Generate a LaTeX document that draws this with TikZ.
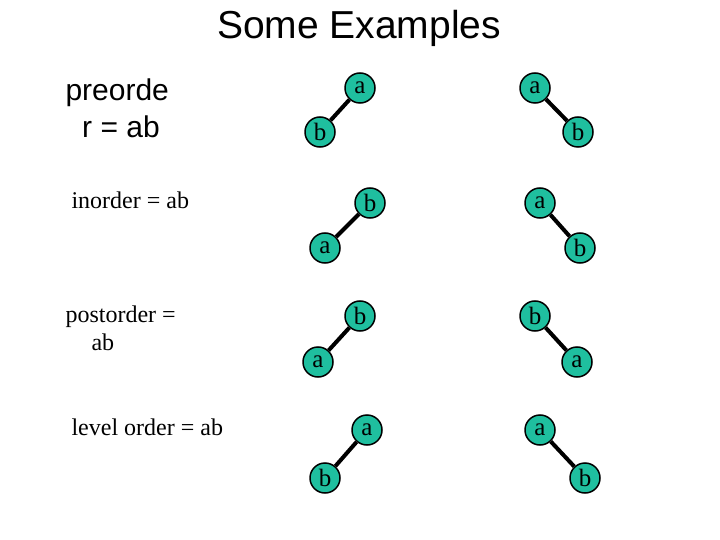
\documentclass[tikz,border=0pt]{standalone}
\usepackage{fontspec}
\setmainfont{Liberation Serif}
\newfontfamily\arialf{Liberation Sans}
\definecolor{nodeg}{HTML}{1FBF9F}
\begin{document}
\begin{tikzpicture}[x=1pt,y=-1pt,
  tn/.style={circle,draw=black,line width=1.5pt,fill=nodeg,minimum size=30pt,inner sep=0pt,font=\fontsize{25}{25}\selectfont},
  ed/.style={line width=4pt,black}]
\useasboundingbox (0,0) rectangle (720,540);
\node[font=\arialf\fontsize{39}{39}\selectfont] (title) at (359,28) {Some Examples};
\node[anchor=west,align=left,font=\arialf\fontsize{30}{37}\selectfont] (pre) at (62,108) {preorde\\ \ \ r = ab};
\node[anchor=west,font=\fontsize{24}{24}\selectfont] (ino) at (68,200) {inorder = ab};
\node[anchor=west,align=left,font=\fontsize{24}{28}\selectfont] (post) at (62,328) {postorder =\\ \hspace*{26pt}ab};
\node[anchor=west,font=\fontsize{24}{24}\selectfont] (lev) at (68,427) {level order = ab};
% row 1
\node[tn] (a1) at (360,88) {a}; \node[tn] (b1) at (320,132) {b};
\node[tn] (a2) at (535,88) {a}; \node[tn] (b2) at (578,132) {b};
% row 2
\node[tn] (b3) at (370,203) {b}; \node[tn] (a3) at (325,248) {a};
\node[tn] (a4) at (540,203) {a}; \node[tn] (b4) at (580,248) {b};
% row 3
\node[tn] (b5) at (360,316) {b}; \node[tn] (a5) at (318,362) {a};
\node[tn] (b6) at (535,316) {b}; \node[tn] (a6) at (577,362) {a};
% row 4
\node[tn] (a7) at (367,430) {a}; \node[tn] (b7) at (325,478) {b};
\node[tn] (a8) at (540,430) {a}; \node[tn] (b8) at (585,478) {b};
\draw[ed] (a1) -- (b1); \draw[ed] (a2) -- (b2);
\draw[ed] (b3) -- (a3); \draw[ed] (a4) -- (b4);
\draw[ed] (b5) -- (a5); \draw[ed] (b6) -- (a6);
\draw[ed] (a7) -- (b7); \draw[ed] (a8) -- (b8);
\end{tikzpicture}
\end{document}
